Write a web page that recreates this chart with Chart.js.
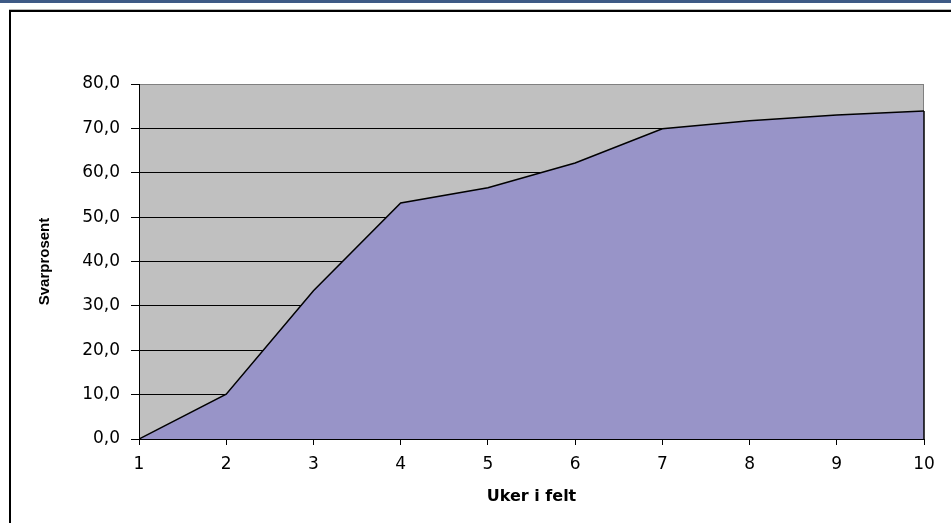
<!DOCTYPE html>
<html>
<head>
<meta charset="utf-8">
<script src="https://cdn.jsdelivr.net/npm/chart.js@4"></script>
<style>
  html, body { margin: 0; padding: 0; background: #fff; }
  #wrap { position: relative; width: 951px; height: 523px; overflow: hidden; }
  #bar { position: absolute; left: 0; top: 0; width: 951px; height: 3px; background: #3e5a86; }
  #shade { position: absolute; left: 9px; top: 9px; width: 960px; height: 1px; background: #b8b8b8; }
  #frame { position: absolute; left: 9px; top: 10px; width: 960px; height: 560px;
           border-left: 2px solid #000; border-top: 2px solid #000; }
  #chart { position: absolute; left: 0; top: 0; }
</style>
</head>
<body>
<div id="wrap">
  <div id="bar"></div>
  <div id="shade"></div>
  <div id="frame"></div>
  <canvas id="chart" width="951" height="523"></canvas>
</div>
<script>
var weeks = [1, 2, 3, 4, 5, 6, 7, 8, 9, 10];
var responseRate = [0, 10.1, 33.4, 53.2, 56.6, 62.2, 69.9, 71.7, 73.0, 73.9];
var xTitle = "Uker i felt";
var yTitle = "Svarprosent";

var plotGray = "#c0c0c0";
var areaBlue = "#9894c8";

var plotBackground = {
  id: "plotBackground",
  beforeDraw: function (chart) {
    var a = chart.chartArea;
    var ctx = chart.ctx;
    ctx.save();
    ctx.fillStyle = plotGray;
    ctx.fillRect(a.left, a.top, a.right - a.left, a.bottom - a.top);
    ctx.strokeStyle = "#808080";
    ctx.lineWidth = 1;
    ctx.beginPath();
    ctx.moveTo(a.right - 0.5, a.top);
    ctx.lineTo(a.right - 0.5, a.bottom);
    ctx.stroke();
    ctx.restore();
  },
  afterDatasetsDraw: function (chart) {
    // dark edge down the right side of the filled area
    var a = chart.chartArea;
    var ctx = chart.ctx;
    var y = chart.scales.y.getPixelForValue(responseRate[responseRate.length - 1]);
    var x = chart.scales.x.getPixelForValue(weeks[weeks.length - 1]);
    ctx.save();
    ctx.strokeStyle = "#000";
    ctx.lineWidth = 1.5;
    ctx.beginPath();
    ctx.moveTo(x, y);
    ctx.lineTo(x, a.bottom);
    ctx.stroke();
    ctx.restore();
  }
};

new Chart(document.getElementById("chart"), {
  type: "line",
  data: {
    labels: weeks,
    datasets: [{
      data: weeks.map(function (w, i) { return { x: w, y: responseRate[i] }; }),
      borderColor: "#000",
      borderWidth: 1.5,
      backgroundColor: areaBlue,
      fill: "origin",
      pointRadius: 0,
      tension: 0
    }]
  },
  options: {
    responsive: false,
    animation: false,
    layout: { padding: { left: 0, top: 84, right: 27, bottom: 0 } },
    plugins: { legend: { display: false }, tooltip: { enabled: false } },
    scales: {
      x: {
        type: "linear",
        min: 1,
        max: 10,
        afterFit: function (scale) { scale.height = 84; },
        ticks: {
          stepSize: 1,
          color: "#000",
          padding: 9,
          font: { family: "DejaVu Sans", size: 17 }
        },
        grid: { drawOnChartArea: false, color: "#000", tickLength: 6 },
        border: { color: "#000", width: 1 },
        title: {
          display: true,
          text: xTitle,
          color: "#000",
          padding: { top: 0, bottom: 17 },
          font: { family: "DejaVu Sans", size: 16, weight: "bold" }
        }
      },
      y: {
        min: 0,
        max: 80,
        afterFit: function (scale) { scale.width = 139; },
        ticks: {
          stepSize: 10,
          color: "#000",
          padding: 11,
          font: { family: "DejaVu Sans", size: 17 },
          callback: function (value) { return Number(value).toFixed(1).replace(".", ","); }
        },
        grid: {
          color: function (ctx) { return ctx.tick && ctx.tick.value === 80 ? "#808080" : "#000"; },
          tickColor: "#000",
          tickLength: 8
        },
        border: { color: "#000", width: 1 },
        title: {
          display: true,
          text: yTitle,
          color: "#000",
          padding: { top: 36, bottom: 0 },
          font: { family: "Liberation Sans", size: 15, weight: "bold" }
        }
      }
    }
  },
  plugins: [plotBackground]
});
</script>
</body>
</html>
